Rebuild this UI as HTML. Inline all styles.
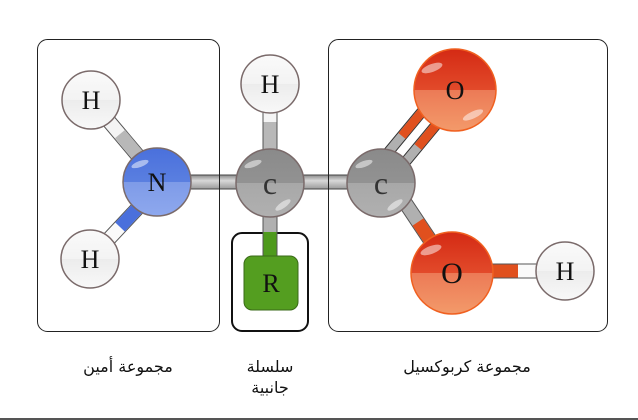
<!DOCTYPE html>
<html><head><meta charset="utf-8"><style>
html,body{margin:0;padding:0;background:#fff;}
svg{display:block}
text{font-family:"Liberation Serif",serif;}
.ar{font-family:"DejaVu Sans","Liberation Sans",sans-serif;font-size:16px;fill:#111;}
</style></head><body>
<svg width="638" height="420" viewBox="0 0 638 420" xmlns="http://www.w3.org/2000/svg">
<defs>
<linearGradient id="gH" x1="0" y1="0" x2="0" y2="1"><stop offset="0" stop-color="#fafafa"/><stop offset="0.5" stop-color="#f3f3f3"/><stop offset="0.5" stop-color="#ececec"/><stop offset="1" stop-color="#f8f8f8"/></linearGradient>
<linearGradient id="gN" x1="0" y1="0" x2="0" y2="1"><stop offset="0" stop-color="#4a70dc"/><stop offset="0.5" stop-color="#5a7fe0"/><stop offset="0.5" stop-color="#7e9be8"/><stop offset="1" stop-color="#8ea8ee"/></linearGradient>
<linearGradient id="gC" x1="0" y1="0" x2="0" y2="1"><stop offset="0" stop-color="#8a8a8a"/><stop offset="0.5" stop-color="#929292"/><stop offset="0.5" stop-color="#a8a8a8"/><stop offset="1" stop-color="#b0b0b0"/></linearGradient>
<linearGradient id="gO" x1="0" y1="0" x2="0" y2="1"><stop offset="0" stop-color="#d42a14"/><stop offset="0.5" stop-color="#e24a2a"/><stop offset="0.5" stop-color="#ec7a56"/><stop offset="1" stop-color="#f39a6a"/></linearGradient>
<linearGradient id="gBond" x1="0" y1="0" x2="0" y2="1"><stop offset="0" stop-color="#8a8a8a"/><stop offset="0.4" stop-color="#d8d8d8"/><stop offset="1" stop-color="#9a9a9a"/></linearGradient>
</defs>
<rect x="37.5" y="39.5" width="182" height="292" rx="10" fill="none" stroke="#222" stroke-width="1"/>
<rect x="232" y="233" width="76" height="98" rx="10" fill="none" stroke="#111" stroke-width="2"/>
<rect x="328.5" y="39.5" width="279" height="292" rx="10" fill="none" stroke="#222" stroke-width="1"/>
<g stroke-linecap="round">
<line x1="91" y1="100" x2="150" y2="170" stroke="#555" stroke-width="15"/>
<line x1="91" y1="100" x2="150" y2="170" stroke="#f4f4f4" stroke-width="13"/>
<line x1="120" y1="134" x2="150" y2="170" stroke="#b8b8b8" stroke-width="13" stroke-linecap="butt"/>
<line x1="90" y1="259" x2="150" y2="195" stroke="#555" stroke-width="15"/>
<line x1="90" y1="259" x2="150" y2="195" stroke="#fafafa" stroke-width="13"/>
<line x1="120" y1="227" x2="150" y2="195" stroke="#4a70dc" stroke-width="13" stroke-linecap="butt"/>
<line x1="270" y1="84" x2="270" y2="170" stroke="#555" stroke-width="15"/>
<line x1="270" y1="84" x2="270" y2="170" stroke="#f4f4f4" stroke-width="13"/>
<line x1="270" y1="122" x2="270" y2="170" stroke="#b8b8b8" stroke-width="13" stroke-linecap="butt"/>
<line x1="270" y1="190" x2="270" y2="262" stroke="#555" stroke-width="15"/>
<line x1="270" y1="190" x2="270" y2="262" stroke="#b0b0b0" stroke-width="13"/>
<line x1="270" y1="232" x2="270" y2="262" stroke="#4e9a1c" stroke-width="13" stroke-linecap="butt"/>
<line x1="392" y1="183" x2="452" y2="273" stroke="#555" stroke-width="15"/>
<line x1="392" y1="183" x2="452" y2="273" stroke="#b0b0b0" stroke-width="13"/>
<line x1="418" y1="222" x2="452" y2="273" stroke="#e0501e" stroke-width="13" stroke-linecap="butt"/>
<line x1="372" y1="172" x2="444" y2="85" stroke="#333" stroke-width="11"/>
<line x1="372" y1="172" x2="444" y2="85" stroke="#b0b0b0" stroke-width="9"/>
<line x1="402" y1="136" x2="444" y2="85" stroke="#e0501e" stroke-width="9" stroke-linecap="butt"/>
<line x1="388" y1="183" x2="460" y2="96" stroke="#333" stroke-width="11"/>
<line x1="388" y1="183" x2="460" y2="96" stroke="#b0b0b0" stroke-width="9"/>
<line x1="418" y1="147" x2="460" y2="96" stroke="#e0501e" stroke-width="9" stroke-linecap="butt"/>
<line x1="460" y1="271" x2="560" y2="271" stroke="#555" stroke-width="15"/>
<line x1="460" y1="271" x2="560" y2="271" stroke="#fafafa" stroke-width="13"/>
<line x1="460" y1="271" x2="518" y2="271" stroke="#e0501e" stroke-width="13" stroke-linecap="butt"/>
</g>
<rect x="157" y="175" width="225" height="14" fill="url(#gBond)"/>
<line x1="157" y1="175" x2="382" y2="175" stroke="#444" stroke-width="1"/>
<line x1="157" y1="189" x2="382" y2="189" stroke="#444" stroke-width="1"/>
<line x1="219.5" y1="170" x2="219.5" y2="195" stroke="#222"/>
<line x1="328.5" y1="170" x2="328.5" y2="195" stroke="#222"/>
<g stroke="#7a6a6a" stroke-width="1.5">
<circle cx="91" cy="100" r="29" fill="url(#gH)"/>
<circle cx="90" cy="259" r="29" fill="url(#gH)"/>
<circle cx="270" cy="84" r="29" fill="url(#gH)"/>
<circle cx="565" cy="271" r="29" fill="url(#gH)"/>
<circle cx="157" cy="182" r="34" fill="url(#gN)"/>
<circle cx="270" cy="183" r="34" fill="url(#gC)"/>
<circle cx="381" cy="183" r="34" fill="url(#gC)"/>
</g>
<g stroke="#f06020" stroke-width="1.5">
<circle cx="455" cy="90" r="41" fill="url(#gO)"/>
<circle cx="452" cy="273" r="41" fill="url(#gO)"/>
</g>
<rect x="244" y="256" width="54" height="54" rx="8" fill="#549e20" stroke="#3a6a18" stroke-width="1"/>
<g fill="#fff" opacity="0.5">
<ellipse cx="140" cy="164" rx="9" ry="3" transform="rotate(-20 140 164)"/>
<ellipse cx="253" cy="164" rx="9" ry="3" transform="rotate(-20 253 164)"/>
<ellipse cx="364" cy="164" rx="9" ry="3" transform="rotate(-20 364 164)"/>
<ellipse cx="432" cy="68" rx="11" ry="4" transform="rotate(-20 432 68)"/>
<ellipse cx="431" cy="250" rx="11" ry="4" transform="rotate(-20 431 250)"/>
<ellipse cx="473" cy="115" rx="11" ry="3.5" transform="rotate(-25 473 115)"/>
<ellipse cx="283" cy="205" rx="9" ry="3" transform="rotate(-35 283 205)"/>
<ellipse cx="395" cy="205" rx="9" ry="3" transform="rotate(-35 395 205)"/>
</g>
<g font-size="26" text-anchor="middle" fill="#111">
<text x="91" y="109">H</text>
<text x="90" y="268">H</text>
<text x="270" y="93">H</text>
<text x="565" y="280">H</text>
<text x="157" y="191">N</text>
<text x="270" y="194" fill="#333" font-size="32">c</text>
<text x="381" y="194" fill="#333" font-size="32">c</text>
<text x="455" y="99">O</text>
<text x="452" y="283" font-size="30">O</text>
<text x="271" y="292">R</text>
</g>
<text class="ar" x="128" y="372" text-anchor="middle" direction="rtl">مجموعة أمين</text>
<text class="ar" x="270" y="372" text-anchor="middle" direction="rtl">سلسلة</text>
<text class="ar" x="270" y="393" text-anchor="middle" direction="rtl">جانبية</text>
<text class="ar" x="467" y="372" text-anchor="middle" direction="rtl">مجموعة كربوكسيل</text>
<rect x="0" y="418" width="638" height="2" fill="#555"/>
</svg>
</body></html>
